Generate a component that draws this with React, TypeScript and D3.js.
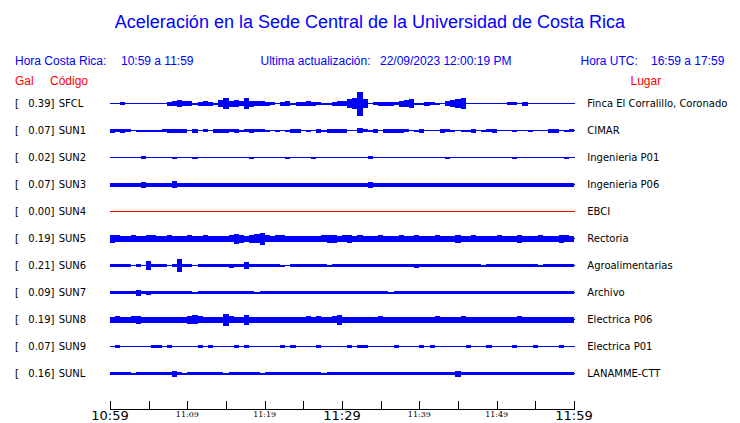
import React from "react";
import * as d3 from "d3";

const codes = ["SFCL", "SUN1", "SUN2", "SUN3", "SUN4", "SUN5", "SUN6", "SUN7", "SUN8", "SUN9", "SUNL"];
const places = ["Finca El Corralillo, Coronado", "CIMAR", "Ingenieria P01", "Ingenieria P06", "EBCI", "Rectoria", "Agroalimentarias", "Archivo", "Electrica P06", "Electrica P01", "LANAMME-CTT"];
const peakGal = [0.39, 0.07, 0.02, 0.07, 0.0, 0.19, 0.21, 0.09, 0.19, 0.07, 0.16];
const traceColors = ["#0000ff", "#0000ff", "#0000ff", "#0000ff", "#ff0000", "#0000ff", "#0000ff", "#0000ff", "#0000ff", "#0000ff", "#0000ff"];

// envelope amplitude per 40-second bin (90 bins = 60 minutes), relative units
const sfcl = [0,0,1.5,0,0,0,0,0,0,0,0, 2,2.5,3.5,2.5,2.5,1,2,2.5,2,1, 3.5,5.5,3,3.5,2.5,5.5,3,2.5,2.5,2, 1.5,0.5,2,2.5,1,2,2,2.5,2,1.5, 1,1,2,2.5,2.5,4.5,5.5,12,4.5,0.5, 1.5,2,2,2,1.5,3,3.5,4.5,1,1, 2,1.5,1,0.5,2.5,3.5,4.5,5.5,0.5,0, 0,0,0,0,0,0,1.5,1.5,0,2, 0,0,0,0,0,0,0,0,0];
const sun1 = [2,1.5,2,1.5,0,1,1,1,1,1,1.5, 2,2,2,2,0.5,2,0.5,1.5,0,2, 2,2,1.5,2,1,1.5,2,1.5,1.5,1, 0,1,0,1,2,2,0,1,0,2, 1,2,2,2,2,0,0,2.5,1.5,1, 2,0.5,2,2,2,2,1.5,0,1,2, 0,0,0.5,2,1.5,1,0,1,1,2, 0,1,1.5,2,0,0,0,1,0,0, 1,0,0,0,2,2,0,1,1.5];
const sun2 = [0,0,0,0,0,0,1.5,0,0,0,0, 0,1,0,0,0,1,0,0,0,0, 0,0,0,0,0,0,1,0,0,0, 0,0,0,1,0,0,0,0,1,0, 0,0,0,0,0,0,0,0,0,1.5, 0,0,0,0,0,0,0,0,0,0, 0,0,0,0,1,0,0,0,0,0, 0,0,0,0,0,0,0,1,0,0, 0,0,0,0,0,0,0,1,0];
const sun3 = [2,2,2,2,2,2,3,2,2,2,2, 2,3.5,2,2,2,2,2,2,2,2, 2,2,2,2,2,2,2,2,2,2, 2,2,2,2,2,2,2,2,2,2, 2,2,2,2,2,2,2,2,2,3, 2,2,2,2,2,2,2,2,2,2, 2,2,2,2,2,2,2,2,2,2, 2,2,2,2,2,2,2,2,2,2, 2,2,2,2,2,2,2,2,2];
const sun4 = [0,0,0,0,0,0,0,0,0,0,0, 0,0,0,0,0,0,0,0,0,0, 0,0,0,0,0,0,0,0,0,0, 0,0,0,0,0,0,0,0,0,0, 0,0,0,0,0,0,0,0,0,0, 0,0,0,0,0,0,0,0,0,0, 0,0,0,0,0,0,0,0,0,0, 0,0,0,0,0,0,0,0,0,0, 0,0,0,0,0,0,0,0,0];
const sun5 = [4,3.5,3,3,3.5,3,3,3.5,3.5,3,3, 3.5,3,3,3,3.5,3,3,3.5,3,3, 3,3,3.5,5,4,3,4,4.5,6,3.5, 3,3.5,3.5,3,3,3,3,3,3,3, 3.5,4,4,3,3.5,4,3,3.5,3,3, 3,3.5,3,3,3,3.5,3,3,3.5,3, 3,3,3.5,3,3,3,4,3,3,3.5, 3,3,3,3,3.5,3,3,3,4,3, 3,3,3.5,3,3,3,4,3.5,3];
const sun6 = [1.5,1.5,1.5,1.5,0.5,1.5,0.5,4.5,1.5,1.5,1.5, 0.5,1.5,6.5,1.5,1.5,0.5,1.5,1.5,1.5,1.5, 1.5,1.5,2,1.5,1.5,3.5,1.5,1.5,1.5,1.5, 1.5,1.5,1,0.5,1.5,1.5,1.5,1.5,1.5,1.5, 1.5,1,1.5,1.5,1.5,1.5,1.5,1.5,1.5,1.5, 1.5,1.5,1.5,1.5,1.5,1.5,1.5,1.5,2,1.5, 1.5,1.5,1.5,1.5,1.5,1.5,1.5,1.5,1.5,1.5, 1.5,1,1.5,1.5,1.5,1.5,1.5,1.5,1.5,1.5, 1.5,1.5,1,1.5,1.5,1.5,1.5,1.5,1.5];
const sun7 = [1.5,1.5,1.5,1.5,1.5,3,1.5,2,1.5,1.5,1.5, 1.5,1.5,1.5,1.5,1.5,1,1.5,1.5,1.5,1.5, 1.5,1.5,1.5,1.5,1.5,1.5,1.5,1,1.5,1.5, 1.5,1.5,1.5,1.5,1.5,1.5,1.5,1.5,1.5,1.5, 1.5,1.5,1.5,1.5,1.5,1.5,1.5,1.5,1.5,1.5, 1.5,1.5,1.5,1,1.5,1.5,1.5,1.5,1.5,1.5, 1.5,1.5,1.5,1.5,1.5,1.5,1.5,1.5,1.5,1.5, 1.5,1.5,1.5,1.5,1.5,1.5,1.5,1.5,1.5,1.5, 1.5,1.5,1.5,1.5,1.5,1.5,1.5,1.5,1.5];
const sun8 = [3,3.5,3,3,3.5,4,3,3,3,3,3, 3,3,3,3,4,4.5,3.5,3,3,3, 3,6,3.5,3,3,5,3,3,3,3, 3,3,3,3,3,3,3,3.5,3,3.5, 3,3,3.5,5,3,3,3,3,3,3, 3,3.5,3,3,3,3,3,3,3,3, 3,3,3.5,3,3,3,3,3.5,3,3, 3,3,3,3,3,3,3,3,3.5,3, 3,3,3,3,3,3,3,3,3];
const sun9 = [0,1.5,0,0,0,0,0,0,1.5,1.5,0, 1.5,0,0,0,0,0,1.5,0,1.5,0, 0,0,0,1.5,0,1.5,0,0,0,0, 0,0,1.5,0,1.5,0,0,0,0,1.5, 0,0,0,0,0,1.5,0,1.5,1.5,0, 0,0,0,0,1.5,0,0,0,0,1.5, 0,1.5,0,0,0,0,0,0,1.5,0, 0,0,1.5,0,0,0,0,1.5,0,0, 0,1.5,0,0,0,0,1.5,0,0];
const sunl = [1.5,1.5,1.5,1.5,1,1.5,1.5,1.5,1.5,1.5,1.5, 1.5,3,1.5,1,1.5,1.5,1.5,1.5,1.5,1.5, 1.5,1,1.5,1.5,1.5,1.5,1.5,1.5,1,1.5, 1.5,1.5,1.5,1.5,1.5,1.5,1.5,1.5,1.5,1.5, 1,1.5,1.5,1.5,1.5,1.5,1.5,1.5,1.5,1.5, 1.5,1.5,1.5,1.5,1.5,1.5,1.5,1.5,1.5,1.5, 1.5,1.5,1.5,1.5,1.5,1.5,3,1.5,1.5,1.5, 1.5,1.5,1.5,1.5,1.5,1.5,1.5,1.5,1.5,1.5, 1.5,1.5,1.5,1.5,1.5,1.5,1.5,1.5,1.5];
const traces = [sfcl, sun1, sun2, sun3, sun4, sun5, sun6, sun7, sun8, sun9, sunl];

const tickMinutes = [0, 5, 10, 15, 20, 25, 30, 35, 40, 45, 50, 55, 60];
const labelMinutes = [0, 10, 20, 30, 40, 50, 60];
const tickLabels = ["10:59", "11:09", "11:19", "11:29", "11:39", "11:49", "11:59"];
const bigLabelFlags = [true, false, false, true, false, false, true];

const title = "Aceleración en la Sede Central de la Universidad de Costa Rica";

export default function App() {
  const W = 740, H = 423;
  const x = d3.scaleLinear().domain([0, 60]).range([110, 574]);
  const row = d3.scaleLinear().domain([0, 10]).range([103.5, 373.5]);
  const amp = d3.scaleLinear().domain([0, 12]).range([0, 12]);
  const nBins = 90;
  const binMin = 60 / nBins;
  const sans = "'Liberation Sans', Arial, sans-serif";
  const dv = "'DejaVu Sans', sans-serif";
  const blue = "#0000ff";
  const red = "#ff0000";
  const axisY = 409.5;

  return (
    <svg width={W} height={H} style={{ position: "absolute", left: 0, top: 0, background: "#fff" }}>
      <rect x={0} y={0} width={W} height={H} fill="#fff" />
      <text x={W / 2} y={28} textAnchor="middle" fontFamily={sans} fontSize={18} fill={blue}>{title}</text>

      <g fontFamily={sans} fontSize={12} fill={blue}>
        <text x={15} y={65}>Hora Costa Rica:</text>
        <text x={121} y={65}>10:59 a 11:59</text>
        <text x={260.5} y={65}>Ultima actualización:</text>
        <text x={380} y={65}>22/09/2023 12:00:19 PM</text>
        <text x={580.5} y={65}>Hora UTC:</text>
        <text x={651} y={65}>16:59 a 17:59</text>
      </g>
      <g fontFamily={sans} fontSize={12} fill={red}>
        <text x={15} y={85}>Gal</text>
        <text x={50} y={85}>Código</text>
        <text x={630.5} y={85}>Lugar</text>
      </g>

      {traces.map((vals, r) => {
        const yc = row(r);
        return (
          <g key={codes[r]}>
            <g fontFamily={dv} fontSize={10} fill="#000">
              <text x={15} y={yc + 3.5}>[</text>
              <text x={54.5} y={yc + 3.5} textAnchor="end">{peakGal[r].toFixed(2) + "]"}</text>
              <text x={58.7} y={yc + 3.5}>{codes[r]}</text>
              <text x={587.3} y={yc + 3.5}>{places[r]}</text>
            </g>
            <line x1={x(0)} x2={x(60) + 1} y1={yc} y2={yc} stroke={traceColors[r]} strokeWidth={1} shapeRendering="crispEdges" />
            {vals.map((v, i) =>
              v > 0 ? (
                <rect
                  key={i}
                  x={x(i * binMin)}
                  width={x((i + 1) * binMin) - x(i * binMin)}
                  y={yc - amp(v)}
                  height={2 * amp(v)}
                  fill={traceColors[r]}
                  shapeRendering="crispEdges"
                />
              ) : null
            )}
          </g>
        );
      })}

      <line x1={x(0)} x2={x(60) + 0.5} y1={axisY} y2={axisY} stroke="#000" strokeWidth={1} shapeRendering="crispEdges" />
      {tickMinutes.map((m) => (
        <line key={m} x1={Math.round(x(m)) + 0.5} x2={Math.round(x(m)) + 0.5} y1={400.5} y2={axisY} stroke="#000" strokeWidth={1} shapeRendering="crispEdges" />
      ))}
      {labelMinutes.map((m, i) => (
        <text
          key={m}
          x={x(m)}
          y={bigLabelFlags[i] ? 420 : 417}
          textAnchor="middle"
          fontFamily={bigLabelFlags[i] ? dv : "'DejaVu Serif', serif"}
          fontSize={bigLabelFlags[i] ? 13 : 8}
          fill="#000"
        >
          {tickLabels[i]}
        </text>
      ))}
    </svg>
  );
}
